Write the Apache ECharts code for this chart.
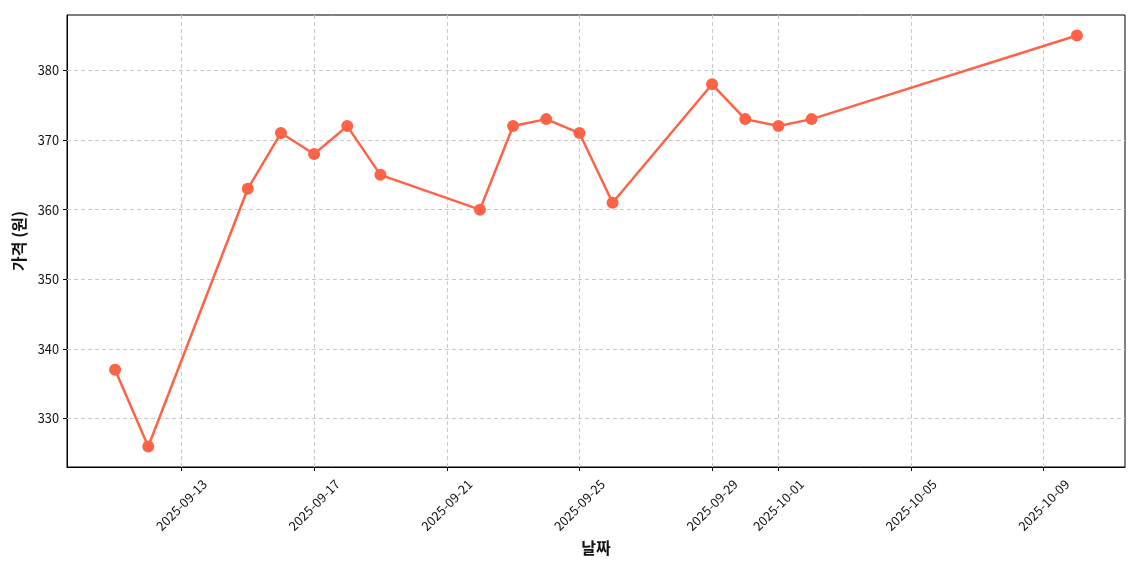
<!DOCTYPE html>
<html><head><meta charset="utf-8">
<script src="https://cdn.jsdelivr.net/npm/echarts@6/dist/echarts.min.js"></script>
<style>html,body{margin:0;padding:0;background:#fff}#c{width:1140px;height:570px}</style>
</head><body><div id="c"></div>
<script>
const dates = ['2025-09-11','2025-09-12','2025-09-15','2025-09-16','2025-09-17','2025-09-18','2025-09-19','2025-09-22','2025-09-23','2025-09-24','2025-09-25','2025-09-26','2025-09-29','2025-09-30','2025-10-01','2025-10-02','2025-10-10'];
const prices = [337,326,363,371,368,372,365,360,372,373,371,361,378,373,372,373,385];
const xTickLabels = ['2025-09-13','2025-09-17','2025-09-21','2025-09-25','2025-09-29','2025-10-01','2025-10-05','2025-10-09'];
const yTicks = [330,340,350,360,370,380];

function ts(s){const p=s.split('-').map(Number);return Date.UTC(p[0],p[1]-1,p[2]);}
const first = ts(dates[0]), last = ts(dates[dates.length-1]);
const span = last-first;
const xMin = first - span*0.05, xMax = last + span*0.05;
const yLo = Math.min(...prices), yHi = Math.max(...prices);
const yMin = yLo-(yHi-yLo)*0.05, yMax = yHi+(yHi-yLo)*0.05;
const xTicks = xTickLabels.map(ts);
function fmt(v){const d=new Date(v);const m=String(d.getUTCMonth()+1).padStart(2,'0');const dd=String(d.getUTCDate()).padStart(2,'0');return d.getUTCFullYear()+'-'+m+'-'+dd;}

const font = '"Noto Sans CJK KR","Noto Sans",sans-serif';
const chart = echarts.init(document.getElementById('c'));
const gridLine = {type:[4,3], color:'#c8c8c8', width:1};
chart.setOption({
  animation:false,
  grid:{left:67,right:15,top:15,bottom:103,show:true,borderColor:'#000',borderWidth:1,containLabel:false,outerBoundsMode:'none'},
  xAxis:{type:'value',min:xMin,max:xMax,scale:true,
    name:'날짜',nameLocation:'middle',nameGap:72,
    nameTextStyle:{fontFamily:font,fontSize:16,fontWeight:'bold',color:'#111'},
    axisLine:{show:true,onZero:false,lineStyle:{color:'#000',width:1}},
    axisTick:{show:true,length:4,lineStyle:{color:'#000'},customValues:xTicks},
    axisLabel:{rotate:45,fontFamily:font,fontSize:12.8,color:'#111',margin:38,align:'center',verticalAlign:'middle',customValues:xTicks,formatter:v=>fmt(v)},
    splitLine:{show:false}},
  yAxis:{type:'value',min:yMin,max:yMax,scale:true,
    name:'가격 (원)',nameLocation:'middle',nameGap:39,
    nameTextStyle:{fontFamily:font,fontSize:16,fontWeight:'bold',color:'#111'},
    axisLine:{show:true,onZero:false,lineStyle:{color:'#000',width:1}},
    axisTick:{show:true,length:4,lineStyle:{color:'#000'},customValues:yTicks},
    axisLabel:{fontFamily:font,fontSize:12.8,color:'#111',margin:8,customValues:yTicks},
    splitLine:{show:false}},
  series:[
    {type:'line',silent:true,data:[],symbol:'none',
     markLine:{silent:true,symbol:'none',label:{show:false},lineStyle:gridLine,animation:false,
       data:[...xTicks.map(v=>({xAxis:v})),...yTicks.map(v=>({yAxis:v}))]}},
    {type:'line',data:dates.map((d,i)=>[ts(d),prices[i]]),
     lineStyle:{color:'#FF6347',width:2.5},itemStyle:{color:'#FF6347'},
     symbol:'circle',symbolSize:12,showAllSymbol:true,z:5}
  ]
});
</script></body></html>
